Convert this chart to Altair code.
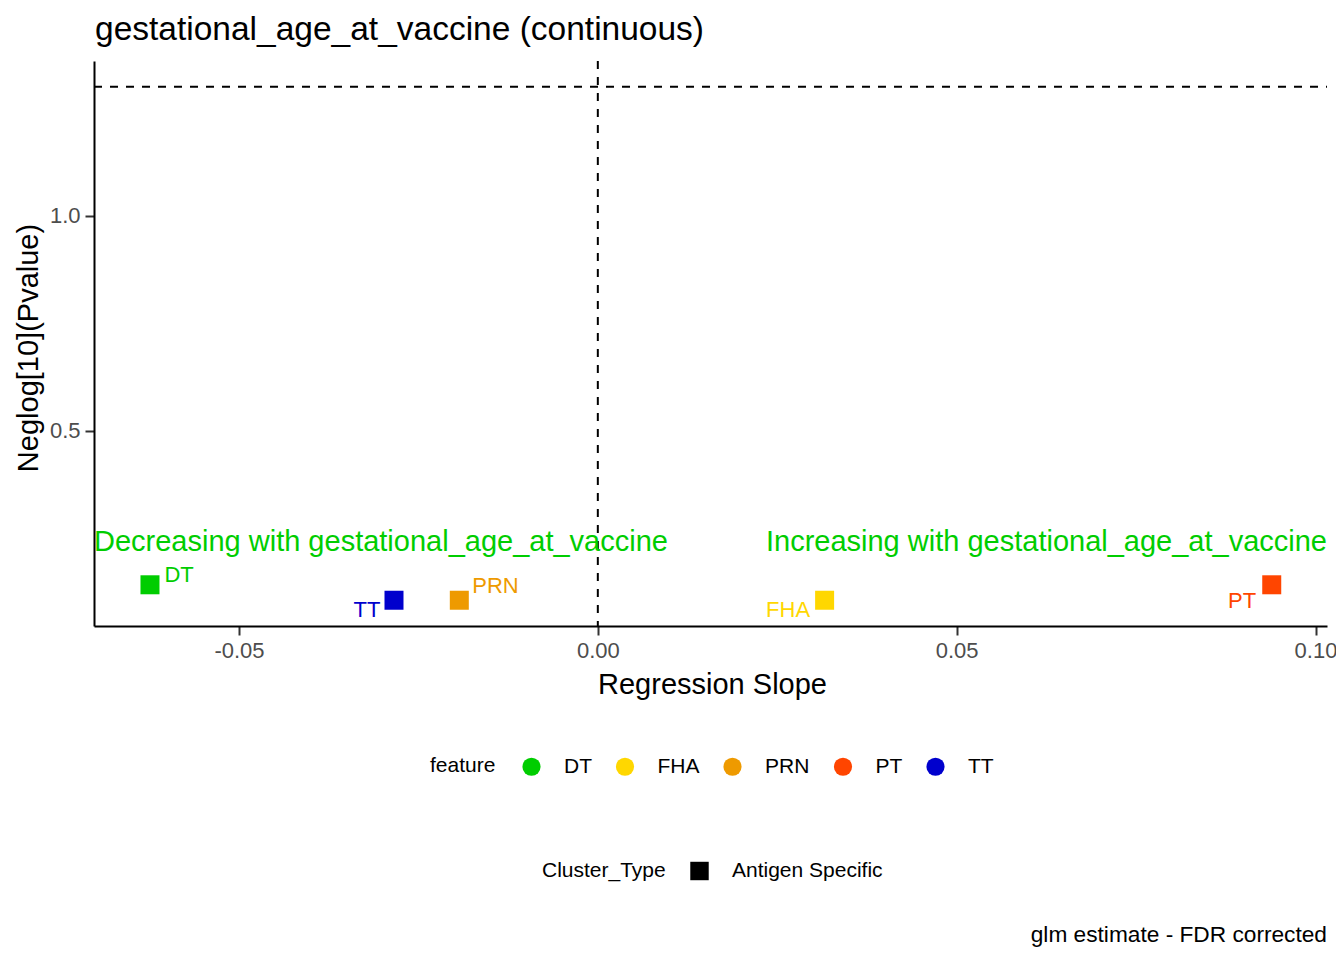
import altair as alt
import pandas as pd

# ---- data ----
features = ["DT", "TT", "PRN", "FHA", "PT"]
slopes = [-0.0624, -0.0284, -0.0193, 0.0316, 0.0939]
neglog_p = [0.141, 0.105, 0.105, 0.105, 0.141]
cluster_types = ["Antigen Specific", "Antigen Specific", "Antigen Specific",
                 "Antigen Specific", "Antigen Specific"]

legend_order = ["DT", "FHA", "PRN", "PT", "TT"]
feature_colors = ["#00CD00", "#FFD700", "#EE9A00", "#FF4500", "#0000CD"]
cluster_levels = ["Antigen Specific"]

x_ticks = [-0.05, 0.0, 0.05, 0.10]
y_ticks = [0.5, 1.0]
x_domain = [-0.0702, 0.1016]
y_domain = [0.045, 1.361]
significance_line = [1.301]   # -log10(0.05)
zero_line = [0.0]

annotation_texts = ["Decreasing with gestational_age_at_vaccine",
                    "Increasing with gestational_age_at_vaccine"]
annotation_y = [0.22, 0.22]
title_text = ["gestational_age_at_vaccine (continuous)"]
caption_text = ["glm estimate - FDR corrected"]

# ---- layout / style ----
FONT = "Liberation Sans"
W, H = 1233, 565
ANNOT_COLOR = "#00CD00"

# per-label offsets (repel-like placement): dx, dy, align
label_style = {
    "DT": (14.5, -3, "left"),
    "TT": (-13.5, 17, "right"),
    "PRN": (13, -7, "left"),
    "FHA": (-14.5, 17, "right"),
    "PT": (-15.5, 23, "right"),
}

df = pd.DataFrame({"feature": features, "slope": slopes,
                   "neglog": neglog_p, "Cluster_Type": cluster_types})

x_enc = alt.X("slope:Q",
              scale=alt.Scale(domain=x_domain, nice=False, zero=False),
              axis=alt.Axis(values=x_ticks, title="Regression Slope",
                            labelExpr="datum.value < 0 ? '-' + format(-datum.value, '.2f') : format(datum.value, '.2f')",
                            titleX=618, titleY=67, titleBaseline="alphabetic",
                            titleAlign="center"))
y_enc = alt.Y("neglog:Q",
              scale=alt.Scale(domain=y_domain, nice=False, zero=False),
              axis=alt.Axis(values=y_ticks, format=".1f",
                            title="Neglog[10](Pvalue)",
                            titleX=-56.5, titleY=286.5, titleAngle=270,
                            titleAlign="center", titleBaseline="alphabetic"))

color_enc = alt.Color("feature:N",
                      scale=alt.Scale(domain=legend_order, range=feature_colors),
                      legend=alt.Legend(title="feature", orient="none",
                                        legendX=336, legendY=695,
                                        direction="horizontal", titleOrient="left",
                                        symbolType="circle", symbolSize=330,
                                        symbolStrokeWidth=0, symbolOpacity=1,
                                        labelOffset=22, columnPadding=22.5,
                                        titlePadding=25))
shape_enc = alt.Shape("Cluster_Type:N",
                      scale=alt.Scale(domain=cluster_levels, range=["square"]),
                      legend=alt.Legend(title="Cluster_Type", orient="none",
                                        legendX=448, legendY=799.5,
                                        direction="horizontal", titleOrient="left",
                                        symbolSize=340, symbolFillColor="black",
                                        symbolStrokeWidth=0, symbolOpacity=1,
                                        labelOffset=22, titlePadding=23))

points = alt.Chart(df).mark_point(filled=True, opacity=1, size=361).encode(
    x=x_enc, y=y_enc, color=color_enc, shape=shape_enc)

vline = alt.Chart(pd.DataFrame({"slope": zero_line})).mark_rule(
    color="black", strokeDash=[8, 8], strokeWidth=2).encode(
    x="slope:Q", y=alt.value(0), y2=alt.value(H))
hline = alt.Chart(pd.DataFrame({"neglog": significance_line})).mark_rule(
    color="black", strokeDash=[8, 8], strokeWidth=2).encode(
    y="neglog:Q", x=alt.value(0), x2=alt.value(W))

label_layers = []
for f in features:
    dx, dy, align = label_style[f]
    col = feature_colors[legend_order.index(f)]
    label_layers.append(
        alt.Chart(df).transform_filter(alt.datum.feature == f).mark_text(
            dx=dx, dy=dy, align=align, baseline="alphabetic",
            fontSize=22, font=FONT, color=col
        ).encode(x="slope:Q", y="neglog:Q", text="feature:N")
    )

annot_df = pd.DataFrame({"text": annotation_texts, "neglog": annotation_y})
annot_left = alt.Chart(annot_df).transform_filter(
    alt.datum.text == annotation_texts[0]).mark_text(
    align="left", baseline="alphabetic", fontSize=29, font=FONT,
    color=ANNOT_COLOR).encode(x=alt.value(0), y="neglog:Q", text="text:N")
annot_right = alt.Chart(annot_df).transform_filter(
    alt.datum.text == annotation_texts[1]).mark_text(
    align="right", baseline="alphabetic", fontSize=29, font=FONT,
    color=ANNOT_COLOR).encode(x=alt.value(W), y="neglog:Q", text="text:N")

title = alt.Chart(pd.DataFrame({"text": title_text})).mark_text(
    align="left", baseline="alphabetic", fontSize=33.5, font=FONT,
    color="black").encode(x=alt.value(1), y=alt.value(-21), text="text:N")

caption = alt.Chart(pd.DataFrame({"text": caption_text})).mark_text(
    align="right", baseline="alphabetic", fontSize=22.7, font=FONT,
    color="black").encode(x=alt.value(W), y=alt.value(880.7), text="text:N")

chart = alt.layer(
    vline, hline, annot_left, annot_right, points, *label_layers, title, caption
).properties(
    width=W, height=H,
    autosize=alt.AutoSizeParams(type="none"),
    padding={"left": 86, "top": 53, "right": 9, "bottom": 326},
).configure_view(stroke=None).configure_axis(
    grid=False, domainColor="black", domainWidth=2, tickColor="#333333",
    tickWidth=2, tickSize=9, labelColor="#4D4D4D", labelFontSize=22,
    labelFont=FONT, titleFont=FONT, titleFontSize=29, titleColor="black",
    titleFontWeight="normal", labelPadding=5
).configure_legend(
    labelFont=FONT, titleFont=FONT, labelFontSize=21, titleFontSize=21,
    titleFontWeight="normal", labelColor="black", titleColor="black"
)

chart.save("out.html", embed_options={"renderer": "svg", "actions": False})
